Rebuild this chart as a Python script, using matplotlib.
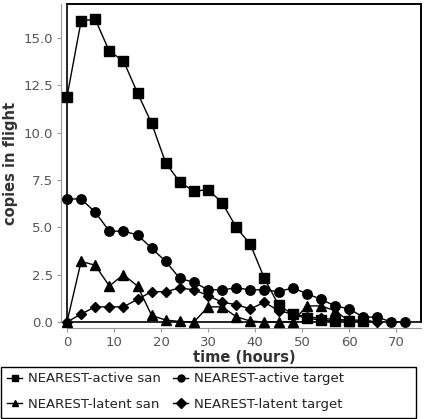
import matplotlib
matplotlib.use("Agg")
import matplotlib.pyplot as plt
from matplotlib.patches import Rectangle

hours = [0, 3, 6, 9, 12, 15, 18, 21, 24, 27, 30, 33, 36, 39, 42, 45, 48, 51, 54, 57, 60, 63, 66, 69, 72]

active_san = [11.9, 15.9, 16.0, 14.3, 13.8, 12.1, 10.5, 8.4, 7.4, 6.9, 7.0, 6.3, 5.0, 4.1, 2.3, 0.9,
              0.4, 0.2, 0.1, 0.07, 0.05, 0.05]
active_target = [6.5, 6.5, 5.8, 4.8, 4.8, 4.6, 3.9, 3.2, 2.3, 2.1, 1.7, 1.7, 1.8, 1.7, 1.7, 1.6,
                 1.8, 1.5, 1.2, 0.85, 0.7, 0.26, 0.26, 0.0, 0.0]
latent_san = [0.0, 3.2, 3.0, 1.9, 2.5, 1.9, 0.35, 0.1, 0.03, 0.0, 0.8, 0.8, 0.28, 0.05, 0.0, 0.0,
              0.0, 0.85, 0.85, 0.6, 0.05]
latent_target = [0.0, 0.42, 0.8, 0.8, 0.8, 1.2, 1.6, 1.6, 1.8, 1.7, 1.4, 1.04, 0.92, 0.69, 1.04, 0.6,
                 0.42, 0.28, 0.19, 0.14, 0.1, 0.1, 0.0]

series = [
    ("NEAREST-active san", active_san, "s", 6.5),
    ("NEAREST-active target", active_target, "o", 6.8),
    ("NEAREST-latent san", latent_san, "^", 6.8),
    ("NEAREST-latent target", latent_target, "D", 5.2),
]

W, H = 426, 419
fig = plt.figure(figsize=(W / 100, H / 100), dpi=100)
ax = fig.add_axes([67 / W, 1 - 322 / H, 354 / W, 318 / H])

handles = {}
for name, vals, mk, ms in series:
    h, = ax.plot(hours[:len(vals)], vals, color="black", lw=1, marker=mk, markersize=ms,
                 label=name, clip_on=False, zorder=3)
    handles[name] = h

ax.set_xlim(0, 75.3)
ax.set_ylim(0, 16.8)
ax.set_xticks([0, 10, 20, 30, 40, 50, 60, 70])
ax.set_yticks([0, 2.5, 5, 7.5, 10, 12.5, 15])
ax.set_yticklabels(["0.0", "2.5", "5.0", "7.5", "10.0", "12.5", "15.0"])

# gray offset axis lines, black frame round the plot area
for side in ["left", "bottom"]:
    ax.spines[side].set_position(("outward", 4))
    ax.spines[side].set_color("#999999")
for side in ["top", "right"]:
    ax.spines[side].set_color("black")
    ax.spines[side].set_linewidth(1.2)
ax.add_patch(Rectangle((0, 0), 1, 1, transform=ax.transAxes, fill=False,
                       edgecolor="black", lw=1.2, clip_on=False, zorder=4))

ax.tick_params(length=3, color="#999999", labelcolor="#555555", labelsize=9.5, pad=3)
ax.set_xlabel("time (hours)", fontsize=10.5, fontweight="bold", color="#333333", labelpad=1)
ax.set_ylabel("copies in flight", fontsize=10.5, fontweight="bold", color="#333333", labelpad=4)

# legend: box drawn by hand, two one-column legends inside it
fig.add_artist(Rectangle((1 / W, 1 / H), 415 / W, 51 / H, transform=fig.transFigure,
                         fill=False, edgecolor="black", lw=1.0))
cols = [(["NEAREST-active san", "NEAREST-latent san"], 4),
        (["NEAREST-active target", "NEAREST-latent target"], 170)]
for names, x0 in cols:
    leg = fig.legend(handles=[handles[k] for k in names], loc="upper left",
                     bbox_to_anchor=(x0 / W, 1 - 369 / H), frameon=False,
                     fontsize=9.5, handlelength=1.1, handletextpad=0.5,
                     borderpad=0.25, labelspacing=0.95, borderaxespad=0)
    for t in leg.get_texts():
        t.set_color("#222222")
    for h in leg.legend_handles:
        h.set_markersize(5)

fig.savefig("out.png", dpi=100)
